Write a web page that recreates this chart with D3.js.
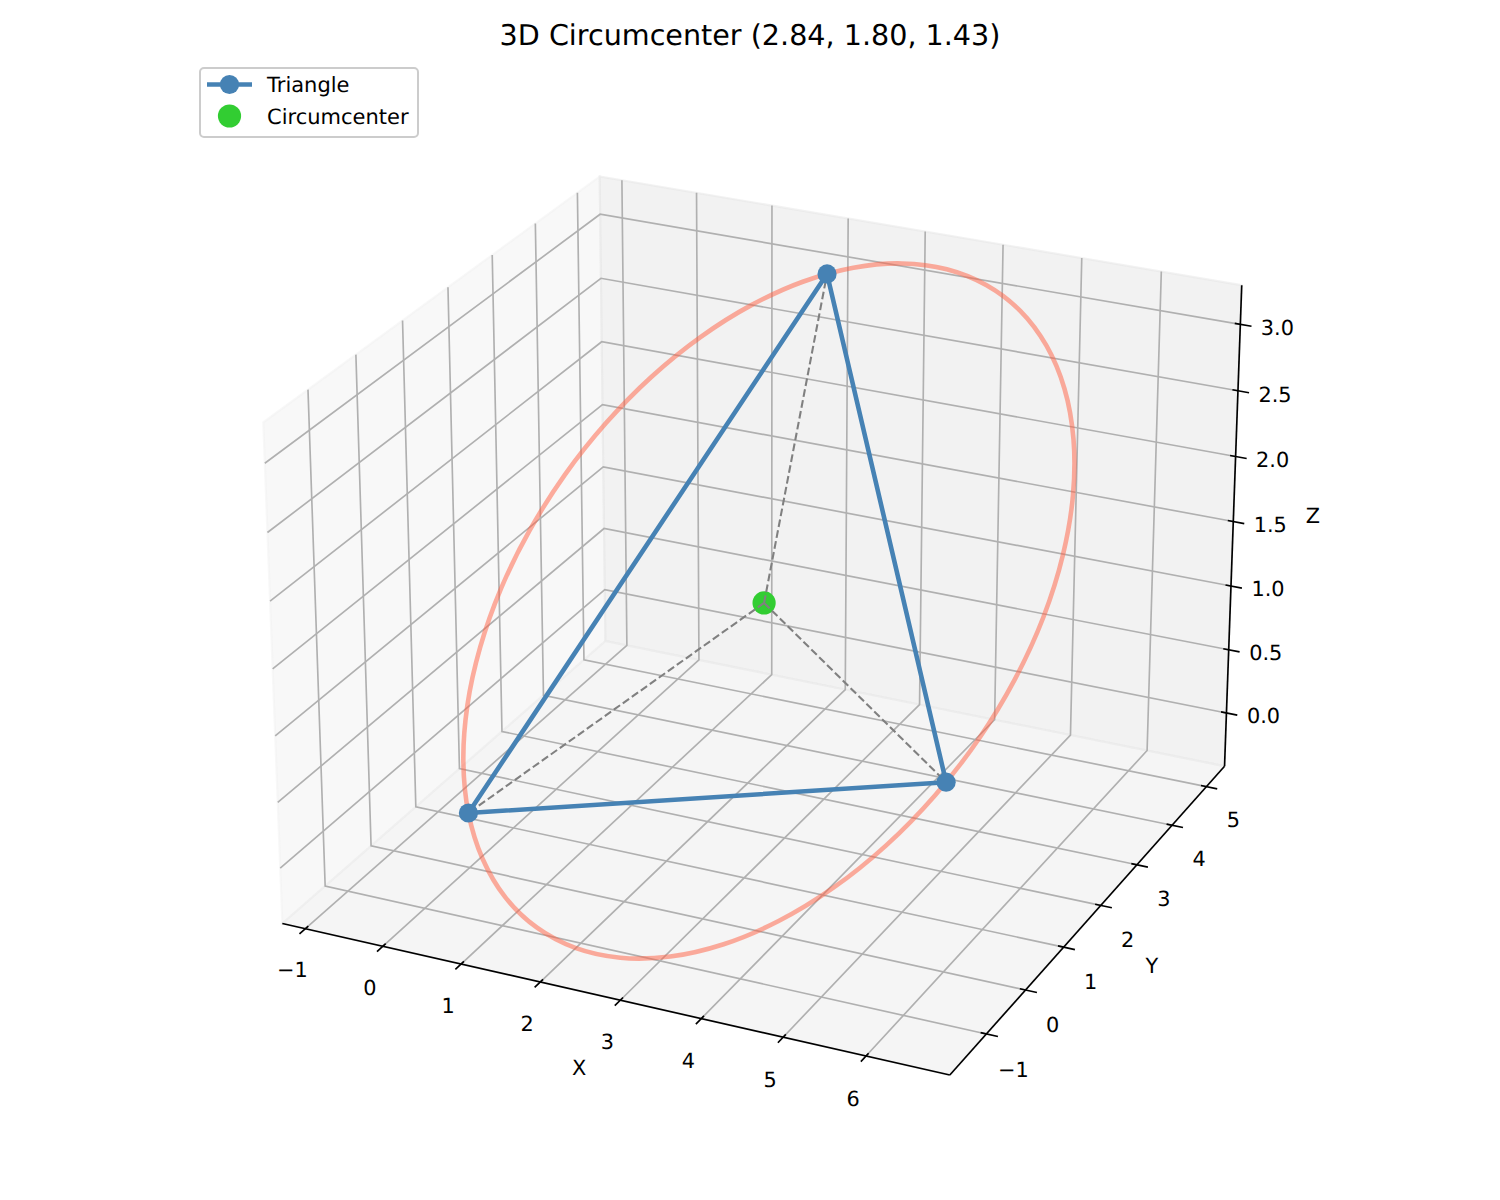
<!DOCTYPE html>
<html>
<head>
<meta charset="utf-8">
<script src="https://cdn.jsdelivr.net/npm/d3@7/dist/d3.min.js"></script>
<style>html,body{margin:0;padding:0;background:#fff}svg{display:block}text{font-family:"DejaVu Sans",sans-serif;fill:#000;text-rendering:geometricPrecision}</style>
</head>
<body>
<svg id="chart" width="1500" height="1200"></svg>
<script>
// ---- data ----
const titleText = "3D Circumcenter (2.84, 1.80, 1.43)";
const triX = [0, 6, 2];
const triY = [0, 0, 5];
const triZ = [0, 1, 3];
const centerPoint = [2.84, 1.80, 1.43];
const circleX = [0.000,0.432,0.937,1.501,2.105,2.732,3.363,3.977,4.557,5.085,5.545,5.923,6.207,6.388,6.463,6.427,6.283,6.034,5.688,5.256,4.751,4.187,3.583,2.956,2.325,1.711,1.131,0.603,0.143,-0.235,-0.519,-0.700,-0.775,-0.739,-0.595,-0.346];
const circleY = [0.000,-0.439,-0.812,-1.104,-1.308,-1.418,-1.430,-1.343,-1.162,-0.890,-0.536,-0.111,0.372,0.898,1.452,2.016,2.574,3.109,3.604,4.043,4.416,4.708,4.912,5.022,5.034,4.947,4.766,4.494,4.140,3.715,3.232,2.706,2.152,1.588,1.030,0.495];
const circleZ = [0.000,-0.162,-0.276,-0.338,-0.347,-0.301,-0.202,-0.054,0.140,0.373,0.638,0.928,1.232,1.543,1.851,2.146,2.420,2.664,2.870,3.032,3.146,3.208,3.217,3.171,3.072,2.924,2.730,2.497,2.232,1.942,1.638,1.327,1.019,0.724,0.450,0.206];
const xTicks = [-1,0,1,2,3,4,5,6];
const yTicks = [-1,0,1,2,3,4,5];
const zTicks = [0,0.5,1,1.5,2,2.5,3];
const xLim = [-1.30, 7.00];
const yLim = [-1.91, 5.54];
const zLim = [-0.425, 3.293];

// ---- camera (elev 25, azim -65, box aspect 4:4:3) ----
const elev = 25*Math.PI/180, azim = -65*Math.PI/180, dist = 10;
const pxScale = 606.4, cx = 765.5, cy = 602;
const boxK = 1.8294640721620434*25/24/Math.sqrt(41);
const xS = d3.scaleLinear().domain(xLim).range([-2*boxK, 2*boxK]);
const yS = d3.scaleLinear().domain(yLim).range([-2*boxK, 2*boxK]);
const zS = d3.scaleLinear().domain(zLim).range([-1.5*boxK, 1.5*boxK]);
const U = [-Math.sin(azim), Math.cos(azim), 0];
const V = [-Math.sin(elev)*Math.cos(azim), -Math.sin(elev)*Math.sin(azim), Math.cos(elev)];
const W = [Math.cos(elev)*Math.cos(azim), Math.cos(elev)*Math.sin(azim), Math.sin(elev)];
const dot = (a,b)=>a[0]*b[0]+a[1]*b[1]+a[2]*b[2];
function project(d){
  const p = [xS(d[0]), yS(d[1]), zS(d[2])];
  const m = 1/(1-dot(W,p)/dist);
  return [cx+pxScale*dot(U,p)*m, cy-pxScale*dot(V,p)*m];
}
const line3 = d3.line().x(d=>project(d)[0]).y(d=>project(d)[1]);
const svg = d3.select("#chart");
const [x0,x1]=xLim,[y0,y1]=yLim,[z0,z1]=zLim;
const GRID="#b0b0b0";
const PT=150/72;

// panes
const panes = [
  {c:"rgb(242,242,242)", pts:[[x0,y0,z0],[x0,y1,z0],[x0,y1,z1],[x0,y0,z1]]},
  {c:"rgb(230,230,230)", pts:[[x0,y1,z0],[x1,y1,z0],[x1,y1,z1],[x0,y1,z1]]},
  {c:"rgb(236,236,236)", pts:[[x0,y0,z0],[x1,y0,z0],[x1,y1,z0],[x0,y1,z0]]}
];
svg.append("g").selectAll("path").data(panes).join("path")
  .attr("d",d=>line3(d.pts)+"Z")
  .attr("fill",d=>d.c).attr("fill-opacity",0.5)
  .attr("stroke",d=>d.c).attr("stroke-opacity",0.5).attr("stroke-width",PT);

// grid
const gridLines = [
  ...xTicks.map(t=>[[t,y0,z0],[t,y1,z0],[t,y1,z1]]),
  ...yTicks.map(t=>[[x1,t,z0],[x0,t,z0],[x0,t,z1]]),
  ...zTicks.map(t=>[[x0,y0,t],[x0,y1,t],[x1,y1,t]])
];
svg.append("g").selectAll("path").data(gridLines).join("path")
  .attr("d",line3).attr("fill","none").attr("stroke",GRID).attr("stroke-width",0.8*PT);

// axis lines and ticks
const axisLines = [[[x0,y0,z0],[x1,y0,z0]],[[x1,y0,z0],[x1,y1,z0]],[[x1,y1,z0],[x1,y1,z1]]];
svg.append("g").selectAll("path").data(axisLines).join("path")
  .attr("d",line3).attr("fill","none").attr("stroke","#000").attr("stroke-width",0.8*PT);
const dx=(x1-x0)/12, dy=(y1-y0)/12;
const tickSegs = [
  ...xTicks.map(t=>[[t,y0+0.1*dy,z0],[t,y0-0.2*dy,z0]]),
  ...yTicks.map(t=>[[x1-0.1*dx,t,z0],[x1+0.2*dx,t,z0]]),
  ...zTicks.map(t=>[[x1-0.1*dx,y1,t],[x1+0.2*dx,y1,t]])
];
svg.append("g").selectAll("path").data(tickSegs).join("path")
  .attr("d",line3).attr("fill","none").attr("stroke","#000").attr("stroke-width",0.8*PT);

// tick labels
const fmtInt = d3.format("d"), fmtZ = d3.format(".1f");
const minus = s=>s.replace("-","\u2212");
const labels = [
  ...xTicks.map(t=>({p:[t,y0,z0],o:[-13,41.5+0.2*t],s:minus(fmtInt(t))})),
  ...yTicks.map(t=>({p:[x1,t,z0],o:[27,35.3-0.4*t],s:minus(fmtInt(t))})),
  ...zTicks.map(t=>({p:[x1,y1,t],o:[37,3+0.3*t],s:fmtZ(t)})),
  {p:[(x0+x1)/2,y0,z0],o:[-29,71],s:"X"},
  {p:[x1,(y0+y1)/2,z0],o:[58,53],s:"Y"},
  {p:[x1,y1,(z0+z1)/2],o:[80,-14],s:"Z"}
];
svg.append("g").selectAll("text").data(labels).join("text")
  .attr("x",d=>project(d.p)[0]+d.o[0]).attr("y",d=>project(d.p)[1]+d.o[1])
  .attr("text-anchor","middle").attr("dominant-baseline","central")
  .attr("font-size",10*PT).text(d=>d.s);

// circumscribed circle
const circlePts = circleX.map((x,i)=>[x,circleY[i],circleZ[i]]);
svg.append("path")
  .attr("d",d3.line().x(d=>project(d)[0]).y(d=>project(d)[1]).curve(d3.curveCatmullRomClosed)(circlePts))
  .attr("fill","none").attr("stroke","#FF6347").attr("stroke-opacity",0.52).attr("stroke-width",2.2*PT);

// circumcenter
const triPts = triX.map((x,i)=>[x,triY[i],triZ[i]]);
svg.append("circle")
  .attr("cx",project(centerPoint)[0]).attr("cy",project(centerPoint)[1])
  .attr("r",11.6).attr("fill","#32CD32");

// radii
svg.append("g").selectAll("path").data(triPts).join("path")
  .attr("d",d=>line3([centerPoint,d])).attr("fill","none")
  .attr("stroke","#808080").attr("stroke-width",1*PT).attr("stroke-dasharray",(3.7*PT)+" "+(1.6*PT));

// triangle
svg.append("path").attr("d",line3([...triPts,triPts[0]]))
  .attr("fill","none").attr("stroke","#4682B4").attr("stroke-width",2.2*PT).attr("stroke-linejoin","round");
svg.append("g").selectAll("circle").data(triPts).join("circle")
  .attr("cx",d=>project(d)[0]).attr("cy",d=>project(d)[1])
  .attr("r",9.6).attr("fill","#4682B4");

// title
svg.append("text").attr("x",750).attr("y",35).attr("text-anchor","middle")
  .attr("dominant-baseline","central").attr("font-size",28.6).text(titleText);

// legend
const lg = svg.append("g");
lg.append("rect").attr("x",200).attr("y",68).attr("width",218).attr("height",69).attr("rx",4)
  .attr("fill","#fff").attr("fill-opacity",0.8).attr("stroke","#ccc").attr("stroke-width",2);
lg.append("line").attr("x1",207).attr("x2",252).attr("y1",84.5).attr("y2",84.5)
  .attr("stroke","#4682B4").attr("stroke-width",2.2*PT);
lg.append("circle").attr("cx",229.5).attr("cy",84.5).attr("r",9.6).attr("fill","#4682B4");
lg.append("circle").attr("cx",229.5).attr("cy",116).attr("r",11.6).attr("fill","#32CD32");
lg.selectAll("text").data([["Triangle",85],["Circumcenter",116.5]]).join("text")
  .attr("x",267).attr("y",d=>d[1]).attr("dominant-baseline","central").attr("font-size",21).text(d=>d[0]);
</script>
</body>
</html>
